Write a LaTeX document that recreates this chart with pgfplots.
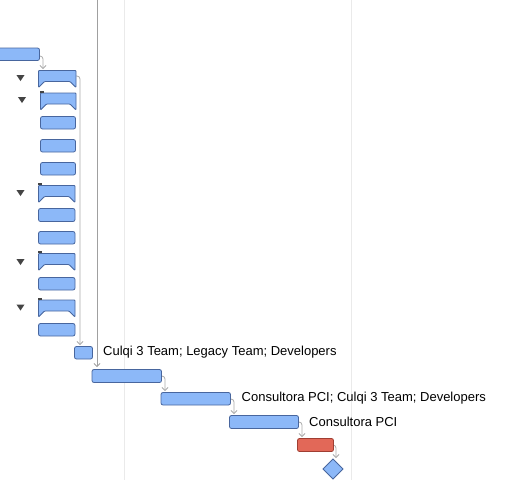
\documentclass[border=0pt]{standalone}
\usepackage{pgfplots}
\pgfplotsset{compat=1.18}
\usetikzlibrary{arrows.meta}
\usepackage{fontspec}
\setmainfont{Liberation Sans}
\definecolor{barblue}{RGB}{140,184,248}
\definecolor{bordblue}{RGB}{72,102,158}
\definecolor{barred}{RGB}{226,104,88}
\definecolor{bordred}{RGB}{160,62,50}
\definecolor{conn}{RGB}{170,170,170}
\definecolor{vline}{RGB}{160,160,160}
\definecolor{gridgray}{RGB}{234,234,234}
\definecolor{trigray}{RGB}{68,68,68}
\begin{document}
\begin{tikzpicture}
\begin{axis}[
  width=508pt, height=480pt, scale only axis,
  xmin=0, xmax=508, ymin=0, ymax=480, y dir=reverse,
  axis lines=none, xtick=\empty, ytick=\empty, clip=true,
  task/.style={fill=barblue, draw=bordblue, line width=0.8pt, rounded corners=2pt},
  summ/.style={fill=barblue, draw=bordblue, line width=0.8pt, rounded corners=0.8pt},
  link/.style={draw=conn, line width=0.8pt, rounded corners=3pt, -{Straight Barb[length=3pt,width=6pt]}},
  tri/.style={fill=trigray, draw=none},
]
% grid lines
\addplot[draw=gridgray, line width=0.8pt] coordinates {(124,0) (124,480)};
\addplot[draw=gridgray, line width=0.8pt] coordinates {(351,0) (351,480)};
% connectors
\addplot[draw=vline, line width=0.8pt, -{Straight Barb[length=3pt,width=6pt]}] coordinates {(97,-2) (97,367)};
\addplot[link] coordinates {(39,56) (43,56) (43,69)};
\addplot[link] coordinates {(76,76) (80,76) (80,345)};
\addplot[link] coordinates {(161,376) (165,376) (165,391)};
\addplot[link] coordinates {(230,399) (234,399) (234,414)};
\addplot[link] coordinates {(298,422) (302,422) (302,437)};
\addplot[link] coordinates {(333,445) (336,445) (336,458)};
% task bars
\addplot[task] coordinates {(-6,48) (39.5,48) (39.5,60.5) (-6,60.5)} -- cycle;
\addplot[summ] coordinates {(38.5,70.5) (76,70.5) (76,87.5) (70,81.5) (44.5,81.5) (38.5,87.5)} -- cycle;
\addplot[summ] coordinates {(40.5,93) (76,93) (76,110) (70,104) (46.5,104) (40.5,110)} -- cycle;
\addplot[task] coordinates {(40.5,116.5) (75.5,116.5) (75.5,129) (40.5,129)} -- cycle;
\addplot[task] coordinates {(40.5,139.5) (75.5,139.5) (75.5,152) (40.5,152)} -- cycle;
\addplot[task] coordinates {(40.5,162.5) (75.5,162.5) (75.5,175) (40.5,175)} -- cycle;
\addplot[summ] coordinates {(38.5,185.5) (75,185.5) (75,202.5) (69,196.5) (44.5,196.5) (38.5,202.5)} -- cycle;
\addplot[task] coordinates {(38.5,208.5) (75,208.5) (75,221.5) (38.5,221.5)} -- cycle;
\addplot[task] coordinates {(38.5,231.5) (75,231.5) (75,244) (38.5,244)} -- cycle;
\addplot[summ] coordinates {(38.5,253.5) (75,253.5) (75,270.5) (69,264.5) (44.5,264.5) (38.5,270.5)} -- cycle;
\addplot[task] coordinates {(38.5,277.5) (75,277.5) (75,290) (38.5,290)} -- cycle;
\addplot[summ] coordinates {(38.5,300) (75,300) (75,317) (69,311) (44.5,311) (38.5,317)} -- cycle;
\addplot[task] coordinates {(38.5,323.5) (75,323.5) (75,336) (38.5,336)} -- cycle;
\addplot[task] coordinates {(74.5,346.5) (92.5,346.5) (92.5,359) (74.5,359)} -- cycle;
\addplot[task] coordinates {(92,369.5) (161.5,369.5) (161.5,382.5) (92,382.5)} -- cycle;
\addplot[task] coordinates {(161,392.5) (230.5,392.5) (230.5,405) (161,405)} -- cycle;
\addplot[task] coordinates {(229.5,415.5) (298.5,415.5) (298.5,428.5) (229.5,428.5)} -- cycle;
\addplot[fill=barred, draw=bordred, line width=0.8pt, rounded corners=2pt] coordinates {(297.5,438.5) (333.5,438.5) (333.5,451.5) (297.5,451.5)} -- cycle;
\addplot[fill=barblue, draw=bordblue, line width=0.8pt] coordinates {(333,459) (343,469) (333,479) (323,469)} -- cycle;
% small progress marks on summaries
\addplot[fill=trigray, draw=none] coordinates {(40,90.8) (43.5,90.8) (43.5,92.6) (40,92.6)} -- cycle;
\addplot[fill=trigray, draw=none] coordinates {(38,183.2) (41.5,183.2) (41.5,185) (38,185)} -- cycle;
\addplot[fill=trigray, draw=none] coordinates {(38,251.4) (41.5,251.4) (41.5,253.2) (38,253.2)} -- cycle;
\addplot[fill=trigray, draw=none] coordinates {(38,297.8) (41.5,297.8) (41.5,299.6) (38,299.6)} -- cycle;
% collapse triangles
\addplot[tri] coordinates {(16.5,75) (24.5,75) (20.5,81)} -- cycle;
\addplot[tri] coordinates {(18,97) (26,97) (22,103)} -- cycle;
\addplot[tri] coordinates {(16.5,190) (24.5,190) (20.5,196)} -- cycle;
\addplot[tri] coordinates {(16.5,259) (24.5,259) (20.5,265)} -- cycle;
\addplot[tri] coordinates {(16.5,304.5) (24.5,304.5) (20.5,310.5)} -- cycle;
% resource labels
\node[anchor=west, inner sep=0pt, font=\fontsize{13}{15}\selectfont] at (axis cs:103,352.5) {Culqi 3 Team; Legacy Team; Developers};
\node[anchor=west, inner sep=0pt, font=\fontsize{13}{15}\selectfont] at (axis cs:241.5,398) {Consultora PCI; Culqi 3 Team; Developers};
\node[anchor=west, inner sep=0pt, font=\fontsize{13}{15}\selectfont] at (axis cs:309,421.5) {Consultora PCI};
\end{axis}
\pgfresetboundingbox
\useasboundingbox (current axis.south west) rectangle (current axis.north east);
\end{tikzpicture}
\end{document}
